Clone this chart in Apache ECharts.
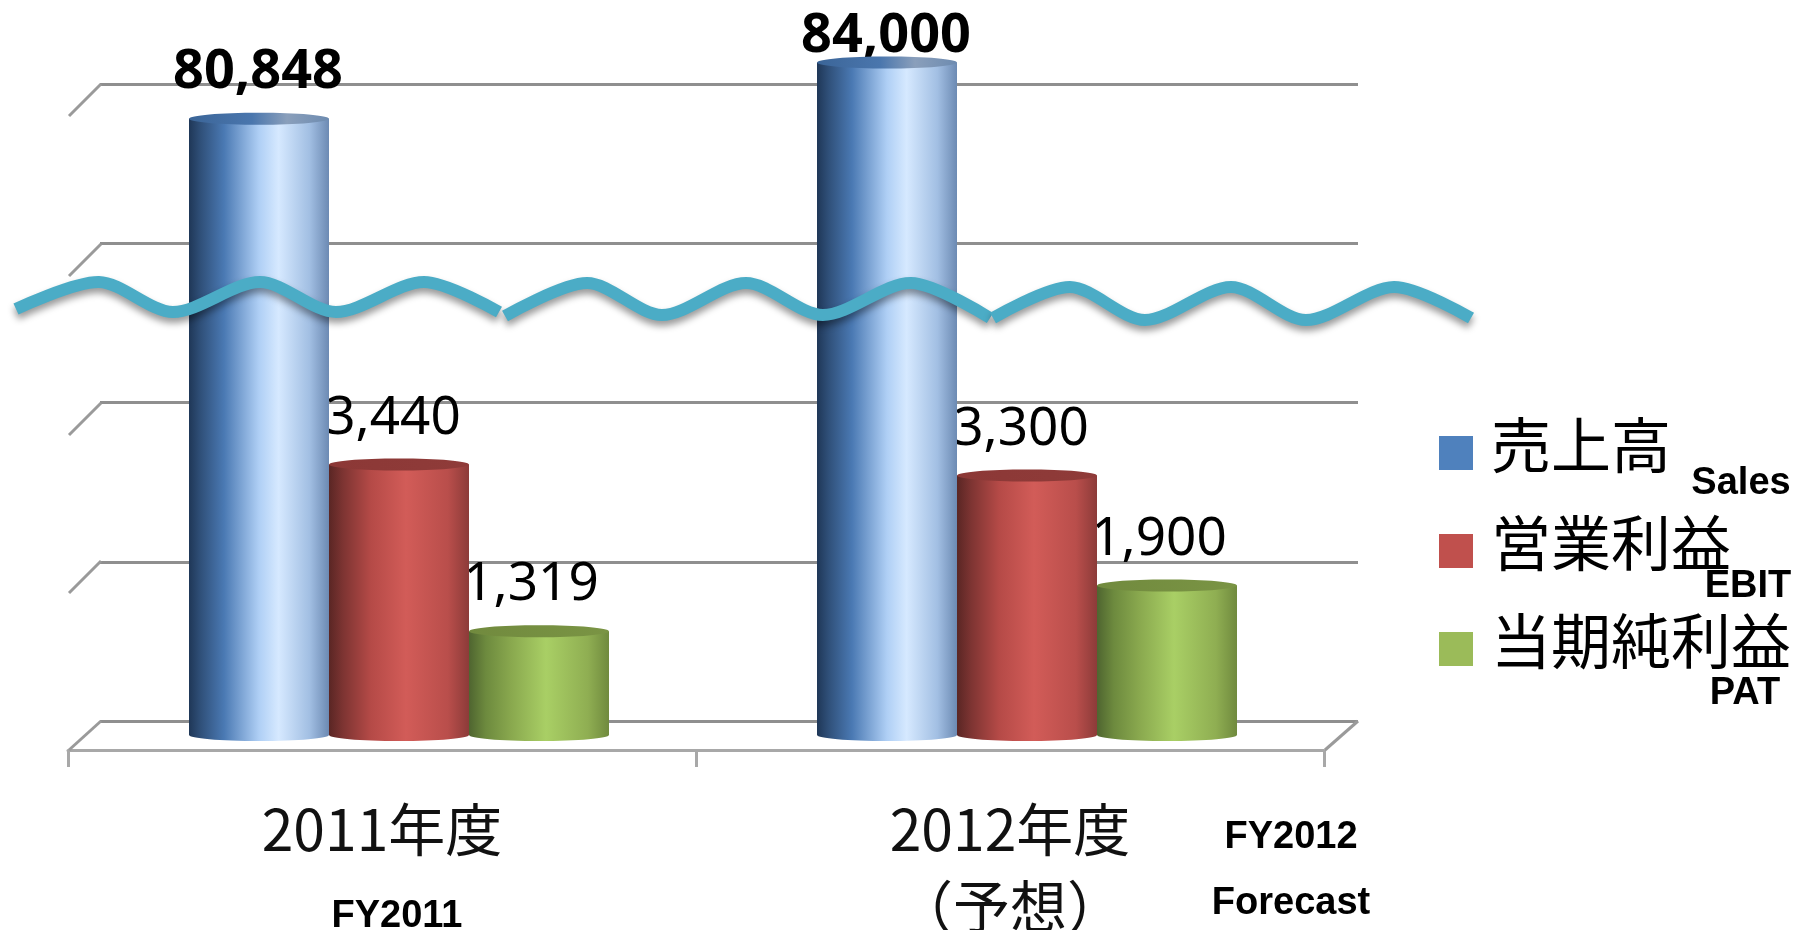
<!DOCTYPE html>
<html>
<head>
<meta charset="utf-8">
<title>売上高 / 営業利益 / 当期純利益</title>
<script src="https://cdn.jsdelivr.net/npm/echarts@6/dist/echarts.min.js"></script>
<style>
	html, body { margin: 0; padding: 0; background: #fff; }
	#chart { width: 1795px; height: 930px; }
</style>
</head>
<body>
<div id="chart"></div>
<script>
	const categories = ['2011年度', '2012年度\n（予想）'];
	const seriesNames = ['売上高', '営業利益', '当期純利益'];
	const salesValues = [80848, 84000];
	const ebitValues = [3440, 3300];
	const patValues = [1319, 1900];

	// wall lines of the fake 3D box, no data in them
	const wallMax = 8000;
	const wallStep = 2000;

	const CJK = '"Noto Sans CJK JP", sans-serif';
	const LATIN = '"Noto Sans", sans-serif';
	const ARIAL = '"Liberation Sans", Arial, sans-serif';
	const BAR_W = 140;
	const DEPTH_X = 17; // bars sit in the middle of the floor
	const RY = 6;

	function grad(stops) {
		return new echarts.graphic.LinearGradient(0, 0, 1, 0, stops.map(s => ({ offset: s[0], color: s[1] })));
	}

	const looks = [
		{
			flat: '#4f81bd',
			body: grad([[0, '#1f3757'], [0.08, '#2f4f78'], [0.25, '#4a79b3'], [0.5, '#afcff5'], [0.64, '#d6e9ff'], [0.86, '#a2bfe3'], [1, '#6c8ab3']]),
			top: grad([[0, '#3b6598'], [0.45, '#4a76ad'], [0.7, '#8a9fbb'], [1, '#6d8bb0']]),
			font: 'bold 54px ' + LATIN,
			labelDx: -1
		},
		{
			flat: '#c0504d',
			body: grad([[0, '#5a2624'], [0.1, '#7d3432'], [0.3, '#b54a47'], [0.55, '#d25c58'], [0.85, '#b94e4b'], [1, '#8c3b39']]),
			top: grad([[0, '#8c3836'], [1, '#8f3b39']]),
			font: '53px ' + LATIN,
			labelDx: -6
		},
		{
			flat: '#9bbb59',
			body: grad([[0, '#4f6530'], [0.12, '#6d8a3e'], [0.3, '#89a84e'], [0.55, '#a9cf65'], [0.85, '#8fae52'], [1, '#708a3e']]),
			top: grad([[0, '#718a3e'], [1, '#7a9444']]),
			font: '53px ' + LATIN,
			labelDx: -8
		}
	];

	function cylinder(seriesIdx) {
		const look = looks[seriesIdx];
		return function (params, api) {
			const val = api.value(1);
			const top = api.coord([api.value(0), val]);
			const base = params.coordSys.y + params.coordSys.height;
			const cx = top[0] + DEPTH_X + (seriesIdx - 1) * BAR_W;
			const x = cx - BAR_W / 2;
			const y = top[1];
			return {
				type: 'group',
				children: [
					{ type: 'text', z2: 1, style: {
						x: cx + look.labelDx,
						y: Math.max(37, y - 46),
						text: val.toLocaleString('en-US'),
						font: look.font,
						fill: '#000',
						align: 'center',
						verticalAlign: 'middle'
					} },
					{ type: 'ellipse', z2: 10, shape: { cx: cx, cy: base, rx: BAR_W / 2, ry: RY }, style: { fill: look.body } },
					{ type: 'rect', z2: 11, shape: { x: x, y: y, width: BAR_W, height: base - y }, style: { fill: look.body } },
					{ type: 'ellipse', z2: 12, shape: { cx: cx, cy: y, rx: BAR_W / 2, ry: RY }, style: { fill: look.top } }
				]
			};
		};
	}

	function wallDiagonal(x1, y1, x2, y2) {
		return { type: 'line', z: 1, shape: { x1, y1, x2, y2 }, style: { stroke: '#9a9a9a', lineWidth: 3 } };
	}

	function wave(points) {
		return {
			type: 'polyline',
			z: 100,
			shape: { points: points, smooth: 0.3 },
			style: {
				stroke: '#4bacc6',
				lineWidth: 12,
				fill: null,
				shadowColor: 'rgba(0,0,0,0.4)',
				shadowBlur: 7,
				shadowOffsetY: 5
			}
		};
	}

	function note(text, x, y) {
		return {
			type: 'text',
			z: 50,
			style: { x, y, text, font: 'bold 38px ' + ARIAL, fill: '#000', align: 'center', verticalAlign: 'middle' }
		};
	}

	const chartDom = document.getElementById('chart');
	const myChart = echarts.init(chartDom);

	const options = {
		animation: false,
		backgroundColor: '#fff',
		legend: {
			orient: 'vertical',
			left: 1434,
			top: 410,
			icon: 'rect',
			itemWidth: 34,
			itemHeight: 34,
			itemGap: 22,
			selectedMode: false,
			formatter: '{t|{name}}',
			textStyle: {
				color: '#000',
				rich: { t: { fontFamily: CJK, fontSize: 60, lineHeight: 60, color: '#000', padding: [0, 0, 16, 13] } }
			},
			data: seriesNames
		},
		grid: [
			{ left: 68, width: 1256, top: 43, height: 692, outerBoundsMode: 'none' },
			{ left: 100, width: 1258, top: 84, height: 637, outerBoundsMode: 'none' }
		],
		xAxis: [
			{
				type: 'category',
				gridIndex: 0,
				data: categories,
				offset: 15,
				axisLine: { onZero: false, lineStyle: { color: '#a8a8a8', width: 3 } },
				axisTick: { show: true, length: 17, lineStyle: { color: '#a8a8a8', width: 3 } },
				axisLabel: { interval: 0, margin: 41, fontFamily: CJK, fontSize: 57, lineHeight: 77, color: '#111' }
			},
			{ type: 'value', gridIndex: 1, show: false, min: 0, max: 1 }
		],
		yAxis: [
			// EBIT and PAT side of the break
			{ type: 'value', gridIndex: 0, show: false, min: 0, max: 8800 },
			// sales side of the break, squeezed like the original
			{ type: 'value', gridIndex: 0, show: false, min: 46200, max: 85100 },
			{
				type: 'value',
				gridIndex: 1,
				min: 0,
				max: wallMax,
				interval: wallStep,
				axisLine: { show: false },
				axisTick: { show: false },
				axisLabel: { show: false },
				splitLine: { show: true, lineStyle: { color: '#8f8f8f', width: 3 } }
			}
		],
		graphic: [
			wallDiagonal(101, 84, 69, 116),
			wallDiagonal(101, 244, 69, 276),
			wallDiagonal(101, 403, 69, 435),
			wallDiagonal(101, 561, 69, 593),
			wallDiagonal(101, 721, 69, 750),
			wallDiagonal(1358, 721, 1325, 750),
			wave([[16, 309], [99, 282], [173, 312], [260, 282], [336, 312], [424, 282], [499, 312]]),
			wave([[505, 316], [587, 283], [662, 315], [746, 283], [823, 315], [911, 283], [990, 318]]),
			wave([[993, 318], [1070, 287], [1145, 320], [1231, 287], [1306, 320], [1394, 287], [1471, 318]]),
			note('FY2011', 397, 917),
			note('FY2012', 1291, 838),
			note('Forecast', 1291, 904),
			note('Sales', 1741, 484),
			note('EBIT', 1748, 587),
			note('PAT', 1745, 694)
		],
		series: [
			{
				name: seriesNames[0],
				type: 'custom',
				xAxisIndex: 0,
				yAxisIndex: 1,
				itemStyle: { color: looks[0].flat },
				renderItem: cylinder(0),
				encode: { x: 0, y: 1 },
				data: salesValues.map((v, i) => [i, v])
			},
			{
				name: seriesNames[1],
				type: 'custom',
				xAxisIndex: 0,
				yAxisIndex: 0,
				itemStyle: { color: looks[1].flat },
				renderItem: cylinder(1),
				encode: { x: 0, y: 1 },
				data: ebitValues.map((v, i) => [i, v])
			},
			{
				name: seriesNames[2],
				type: 'custom',
				xAxisIndex: 0,
				yAxisIndex: 0,
				itemStyle: { color: looks[2].flat },
				renderItem: cylinder(2),
				encode: { x: 0, y: 1 },
				data: patValues.map((v, i) => [i, v])
			}
		]
	};

	myChart.setOption(options);
</script>
</body>
</html>
